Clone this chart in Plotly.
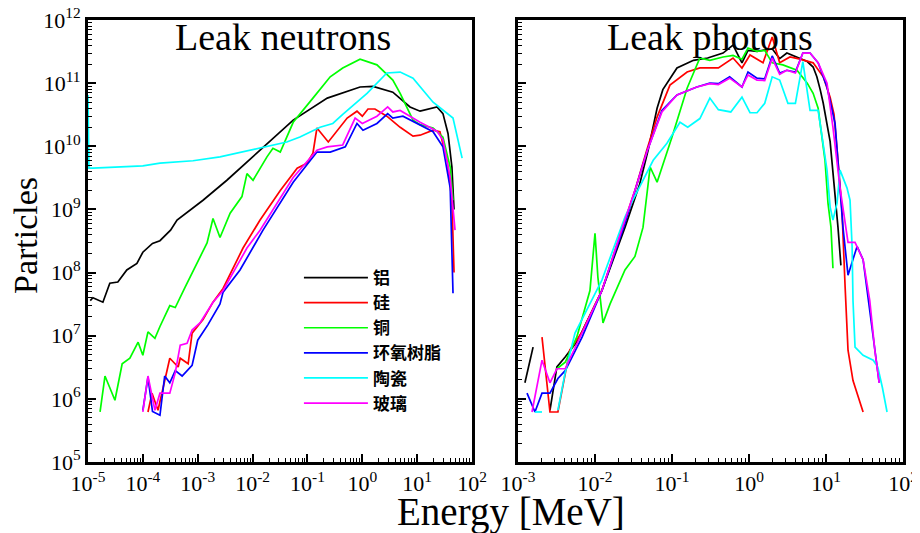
import plotly.graph_objects as go

# ---------------- data ----------------
materials = ["铝", "硅", "铜", "环氧树脂", "陶瓷", "玻璃"]
colors = ["#000000", "#ff0000", "#00ff00", "#0000ff", "#00ffff", "#ff00ff"]

# Leak neutrons
n_al_E = [1.1e-5, 1.23e-5, 1.87e-5, 2.5e-5, 3.5e-5, 5.1e-5, 7.8e-5, 1.0e-4, 1.5e-4, 2.05e-4, 3.2e-4, 4.2e-4,
          1.25e-3, 3.4e-3, 1.37e-2, 5.5e-2, 0.23, 0.91, 1.57, 3.6, 7.4, 11.3, 23, 29.5, 36.5, 43, 47]
n_al_N = [3.6e7, 4.0e7, 3.4e7, 6.8e7, 7.1e7, 1.1e8, 1.4e8, 2.1e8, 2.9e8, 3.2e8, 4.7e8, 6.8e8,
          1.4e9, 2.9e9, 8.7e9, 2.6e10, 5.8e10, 8.7e10, 8.9e10, 7.2e10, 4.2e10, 3.6e10, 4.2e10, 3.3e10, 1.6e10, 4.7e9, 1.0e9]

n_si_E = [1.24e-4, 1.47e-4, 1.89e-4, 2.23e-4, 3.1e-4, 4.4e-4, 4.8e-4, 6.7e-4, 7.9e-4, 1.25e-3, 1.9e-3, 2.9e-3,
          6.7e-3, 1.37e-2, 3.2e-2, 6.5e-2, 9.8e-2, 0.126, 0.149, 0.24, 0.35, 0.53, 0.8, 1.0, 1.27, 1.7, 2.8, 4.9,
          8.4, 11.3, 19.5, 26, 35, 43, 47]
n_si_N = [6.2e5, 1.23e6, 6.6e5, 1.23e6, 4.4e6, 3.2e6, 4.4e6, 3.6e6, 1.1e7, 1.8e7, 3.4e7, 5.6e7,
          2.45e8, 6.8e8, 2.0e9, 4.5e9, 5.4e9, 7.8e9, 1.95e10, 1.17e10, 1.8e10, 2.8e10, 3.6e10, 3.0e10, 3.9e10,
          3.9e10, 3.0e10, 2.0e10, 1.45e10, 1.5e10, 1.8e10, 1.7e10, 6.0e9, 1.4e9, 1.0e8]

n_cu_E = [1.66e-5, 2.04e-5, 3.1e-5, 4.2e-5, 5.8e-5, 8.2e-5, 1.0e-4, 1.24e-4, 1.66e-4, 2.05e-4, 3.1e-4, 3.9e-4,
          5.9e-4, 9.7e-4, 1.48e-3, 1.9e-3, 2.55e-3, 3.9e-3, 6.4e-3, 7.9e-3, 1.02e-2, 1.83e-2, 2.35e-2, 3.2e-2,
          5.5e-2, 0.126, 0.26, 0.44, 0.91, 1.85, 3.6, 4.9, 6.5, 8.4, 11.3, 19.5, 29.5, 40, 45]
n_cu_N = [6.2e5, 2.3e6, 9.5e5, 3.6e6, 4.4e6, 7.9e6, 4.9e6, 1.15e7, 9.1e6, 1.4e7, 3.0e7, 2.8e7,
          5.9e7, 1.4e8, 2.95e8, 7.2e8, 3.6e8, 8.7e8, 1.6e9, 3.7e9, 2.9e9, 6.8e9, 9.3e9, 8.1e9,
          2.4e10, 5.8e10, 1.26e11, 1.74e11, 2.4e11, 1.95e11, 1.12e11, 6.9e10, 4.2e10, 2.6e10, 2.2e10, 1.95e10,
          1.4e10, 4.7e9, 1.4e9]

n_epoxy_E = [1.0e-4, 1.24e-4, 1.5e-4, 2.05e-4, 2.5e-4, 3.1e-4, 3.9e-4, 5.2e-4, 7.9e-4, 1.0e-3, 1.54e-3, 2.55e-3,
             2.9e-3, 5.9e-3, 1.55e-2, 5.5e-2, 0.149, 0.26, 0.49, 0.8, 1.03, 1.85, 2.9, 3.6, 5.5, 19.5, 29.5, 40, 45]
n_epoxy_N = [6.6e5, 2.2e6, 6.3e5, 5.5e5, 2.3e6, 1.8e6, 2.8e6, 2.3e6, 3.4e6, 8.5e6, 1.5e7, 3.2e7,
             4.9e7, 1.1e8, 4.7e8, 2.7e9, 8.1e9, 8.1e9, 9.8e9, 2.3e10, 1.8e10, 2.3e10, 3.3e10, 2.8e10, 3.0e10,
             1.7e10, 9.8e9, 2.2e9, 4.7e7]

n_ceramic_E = [1.0e-5, 1.04e-5, 1.23e-5, 1.0e-4, 2.05e-4, 8.2e-4, 2.55e-3, 1.37e-2, 4.2e-2, 7.3e-2, 0.17, 0.29,
               0.44, 1.22, 2.8, 4.9, 8.4, 19.5, 45, 66]
n_ceramic_N = [6.5e10, 4.5e9, 4.5e9, 4.9e9, 5.4e9, 5.9e9, 6.8e9, 9.3e9, 1.17e10, 1.4e10, 2.0e10, 2.3e10,
               3.2e10, 6.9e10, 1.45e11, 1.5e11, 1.2e11, 5.0e10, 2.8e10, 6.5e9]

n_glass_E = [1.0e-4, 1.24e-4, 1.66e-4, 2.05e-4, 3.1e-4, 3.9e-4, 4.8e-4, 6.4e-4, 7.9e-4, 1.1e-3, 1.9e-3, 2.9e-3,
             7.9e-3, 1.37e-2, 5.5e-2, 0.149, 0.23, 0.44, 0.74, 1.0, 1.85, 2.9, 3.6, 4.9, 11.3, 23, 29.5, 40, 49]
n_glass_N = [6.2e5, 2.3e6, 6.6e5, 1.23e6, 1.23e6, 2.6e6, 7.1e6, 7.6e6, 1.23e7, 1.6e7, 3.4e7, 5.2e7,
             2.45e8, 4.7e8, 3.2e9, 8.7e9, 9.8e9, 1.05e10, 2.8e10, 2.3e10, 3.0e10, 4.2e10, 3.5e10, 3.7e10,
             2.4e10, 1.74e10, 1.26e10, 3.2e9, 4.7e8]

# Leak photons (None = gap in the curve)
p_al_E = [1.23e-3, 1.57e-3, None, 2.6e-3, 3.2e-3, 4.1e-3, 6.0e-3, 1.23e-2, 2.45e-2, 3.8e-2, 4.9e-2, 6.4e-2,
          7.6e-2, 0.116, 0.19, 0.29, 0.46, 0.62, 0.81, 0.97, 1.27, 2.0, 2.5, 3.1, 4.2, 5.7, 6.8, 7.6, 8.4,
          9.2, 11.3, 13.1, 14.3, 15.6]
p_al_N = [1.8e6, 6.6e6, None, 6.6e5, 3.2e6, 4.6e6, 8.5e6, 5.2e7, 5.2e8, 2.5e9, 8.7e9, 4.0e10,
          7.9e10, 1.74e11, 2.3e11, 2.5e11, 3.0e11, 4.0e11, 2.1e11, 3.3e11, 3.2e11, 3.5e11, 2.45e11, 3.0e11,
          2.6e11, 2.2e11, 1.8e11, 1.26e11, 7.9e10, 4.8e10, 1.2e10, 1.8e9, 5.2e8, 1.3e8]

p_si_E = [2.05e-3, 2.6e-3, 3.3e-3, 4.1e-3, 4.7e-3, 6.8e-3, 1.23e-2, 2.45e-2, 3.3e-2, 4.7e-2, 6.4e-2, 9.4e-2,
          0.157, 0.23, 0.4, 0.62, 0.81, 1.03, 1.52, 2.0, 2.5, 3.4, 4.6, 6.8, 9.2, 11.3, 12.7, 14.3, 16.1,
          17.7, 19.3, 22.4, 25.3, 30.3]
p_si_N = [9.5e6, 6.2e5, 6.2e5, 2.6e6, 5.9e6, 1.15e7, 5.2e7, 6.8e8, 2.0e9, 8.7e9, 2.9e10, 9.3e10,
          1.5e11, 1.74e11, 1.74e11, 2.5e11, 1.74e11, 2.8e11, 2.1e11, 5.4e11, 2.1e11, 2.6e11, 2.4e11, 2.1e11,
          1.26e11, 6.0e10, 3.2e10, 6.0e9, 1.0e9, 5.9e7, 5.9e6, 1.95e6, 1.23e6, 6.2e5]

p_cu_E = [3.2e-3, 4.1e-3, 5.8e-3, 8.6e-3, 1.0e-2, 1.09e-2, 1.27e-2, 1.57e-2, 2.45e-2, 3.3e-2, 4.2e-2, 5.2e-2,
          6.4e-2, 0.10, 0.157, 0.23, 0.31, 0.46, 0.62, 0.81, 0.97, 1.27, 1.6, 2.0, 2.75, 4.2, 5.7, 6.8, 7.9,
          9.7, 10.6, 11.6, 12.3]
p_cu_N = [3.0e6, 3.8e6, 9.5e6, 5.2e7, 4.2e8, 8.5e7, 1.6e7, 3.2e7, 1.1e8, 1.8e8, 5.2e8, 4.7e9,
          2.7e9, 1.4e10, 8.3e10, 2.5e11, 2.3e11, 2.6e11, 2.75e11, 2.4e11, 3.6e11, 3.2e11, 3.3e11, 2.1e11,
          1.95e11, 1.6e11, 1.0e11, 6.9e10, 4.0e10, 6.0e9, 1.26e9, 5.2e8, 1.17e8]

p_epoxy_E = [1.31e-3, 1.66e-3, 2.05e-3, 2.6e-3, 3.3e-3, 4.1e-3, 6.8e-3, 1.23e-2, 2.45e-2, 3.5e-2, 4.8e-2, 7.4e-2,
             0.116, 0.21, 0.31, 0.4, 0.56, 0.81, 0.97, 1.27, 1.6, 2.0, 2.5, 3.1, 4.0, 5.0, 6.2, 7.9, 10.3,
             13.1, 15.2, 16.6, 19.3, 25.3, 30.3, 37, 43, 49]
p_epoxy_N = [1.23e6, 6.2e5, 1.23e6, 1.23e6, 2.1e6, 2.8e6, 9.5e6, 5.2e7, 6.0e8, 2.5e9, 8.7e9, 3.7e10,
             6.5e10, 8.7e10, 1.0e11, 9.8e10, 1.26e11, 8.7e10, 1.5e11, 1.2e11, 1.17e11, 2.7e11, 1.45e11, 1.6e11,
             1.5e11, 3.0e11, 3.0e11, 2.1e11, 8.7e10, 2.3e10, 1.8e9, 5.2e8, 9.1e7, 2.6e8, 1.6e8, 2.5e7, 5.9e6, 1.8e6]

p_ceramic_E = [1.66e-3, 2.05e-3, None, 3.3e-3, 4.1e-3, 5.5e-3, 1.23e-2, 2.45e-2, 3.1e-2, 5.7e-2, 8.6e-2, 0.127,
               0.16, 0.23, 0.31, 0.4, 0.58, 0.81, 1.03, 1.27, 1.6, 2.0, 2.5, 3.2, 4.0, 5.0, 6.2, 7.9, 9.2, 10.3,
               11.3, 12.3, 13.9, 15.2, 18.7, 20.5, 21.8, 22.4, 23.8, 30.3, 41, 47, 54, 62]
p_ceramic_N = [6.2e5, 6.2e5, None, 6.6e5, 2.6e6, 1.1e7, 7.6e7, 7.6e8, 1.4e9, 6.0e9, 1.12e10, 2.4e10,
               2.0e10, 2.75e10, 5.8e10, 3.8e10, 3.5e10, 6.0e10, 3.4e10, 3.4e10, 4.8e10, 1.26e11, 1.12e11, 4.8e10,
               4.8e10, 2.2e11, 3.7e10, 3.7e10, 1.12e10, 4.2e9, 1.1e9, 6.8e8, 1.26e9, 4.2e9, 2.2e9, 1.4e9, 2.6e8,
               3.6e7, 6.6e6, 4.9e6, 4.1e6, 3.2e6, 1.5e6, 6.2e5]

p_glass_E = [1.52e-3, 2.05e-3, 2.6e-3, 3.2e-3, 4.1e-3, 6.8e-3, 1.23e-2, 2.45e-2, 3.5e-2, 4.8e-2, 7.4e-2, 0.116,
             0.21, 0.31, 0.4, 0.56, 0.81, 0.97, 1.27, 1.6, 2.0, 2.5, 3.1, 4.0, 5.0, 6.2, 7.9, 10.3, 12.3, 15.2,
             17.7, 19.3, 23.8, 30.3, 37, 43, 49]
p_glass_N = [6.2e5, 4.1e6, 1.8e6, 3.0e6, 3.0e6, 1.1e7, 5.2e7, 6.8e8, 2.5e9, 8.7e9, 3.5e10, 6.5e10,
             8.7e10, 9.8e10, 9.5e10, 1.2e11, 8.7e10, 1.35e11, 1.12e11, 1.1e11, 2.5e11, 1.38e11, 1.6e11, 1.45e11,
             3.0e11, 3.0e11, 2.1e11, 1.0e11, 2.0e10, 2.2e9, 6.8e8, 3.0e8, 3.0e8, 1.6e8, 3.6e7, 5.9e6, 1.8e6]

neutron_series = [(n_al_E, n_al_N), (n_si_E, n_si_N), (n_cu_E, n_cu_N),
                  (n_epoxy_E, n_epoxy_N), (n_ceramic_E, n_ceramic_N), (n_glass_E, n_glass_N)]
photon_series = [(p_al_E, p_al_N), (p_si_E, p_si_N), (p_cu_E, p_cu_N),
                 (p_epoxy_E, p_epoxy_N), (p_ceramic_E, p_ceramic_N), (p_glass_E, p_glass_N)]

left_x_exps = [-5, -4, -3, -2, -1, 0, 1, 2]
right_x_exps = [-3, -2, -1, 0, 1, 2]
y_exps = [5, 6, 7, 8, 9, 10, 11, 12]
panel_titles = ["Leak neutrons", "Leak photons"]
x_title = "Energy [MeV]"
y_title = "Particles"

# ---------------- figure ----------------
SERIF = "Liberation Serif, Times New Roman, serif"
fig = go.Figure()

for name, col, (e, n) in zip(materials, colors, neutron_series):
    fig.add_trace(go.Scatter(x=e, y=n, mode="lines", name=name, legendgroup=name,
                             line=dict(color=col, width=1.7), xaxis="x", yaxis="y"))
for name, col, (e, n) in zip(materials, colors, photon_series):
    fig.add_trace(go.Scatter(x=e, y=n, mode="lines", name=name, legendgroup=name, showlegend=False,
                             line=dict(color=col, width=1.7), xaxis="x2", yaxis="y2"))


def sup_label(p):
    return "10<sup>%d</sup>" % p


def minor_vals(exps):
    return [k * 10.0 ** p for p in exps[:-1] for k in range(2, 10)]


def log_axis(exps, show_labels=True):
    return dict(
        type="log", range=[exps[0], exps[-1]], automargin=False,
        tickmode="array", tickvals=[10.0 ** p for p in exps],
        ticktext=[sup_label(p) for p in exps], showticklabels=show_labels,
        ticklabeloverflow="allow",
        ticks="inside", ticklen=8, tickwidth=2, tickcolor="black",
        minor=dict(ticks="inside", ticklen=4, tickwidth=1, tickcolor="black",
                   tickmode="array", tickvals=minor_vals(exps), showgrid=False),
        showgrid=False, zeroline=False,
        showline=True, linewidth=3, linecolor="black", mirror=True,
        tickfont=dict(family=SERIF, size=22, color="black"),
    )


# the page body adds an 8px offset, so the figure is 8px smaller than the window
W, H = 912, 525
ydom = [0.1352, 0.9771]
fig.update_layout(
    width=W, height=H,
    margin=dict(l=0, r=0, t=0, b=0, autoexpand=False),
    paper_bgcolor="white", plot_bgcolor="white",
    xaxis=dict(log_axis(left_x_exps), domain=[0.0877, 0.5088], anchor="y"),
    yaxis=dict(log_axis(y_exps), domain=ydom, anchor="x"),
    xaxis2=dict(log_axis(right_x_exps), domain=[0.5592, 0.9814], anchor="y2"),
    yaxis2=dict(log_axis(y_exps, show_labels=False), domain=ydom, anchor="x2"),
    showlegend=True,
    legend=dict(x=0.319, y=0.52, xanchor="left", yanchor="top", tracegroupgap=0,
                bgcolor="rgba(0,0,0,0)", itemwidth=64,
                font=dict(family="Noto Sans CJK SC", size=17, color="black", weight="bold")),
    annotations=[
        dict(text=panel_titles[0], x=0.3015, y=0.9448, xref="paper", yref="paper",
             showarrow=False, xanchor="center", yanchor="middle",
             font=dict(family=SERIF, size=38, color="black")),
        dict(text=panel_titles[1], x=0.7697, y=0.9448, xref="paper", yref="paper",
             showarrow=False, xanchor="center", yanchor="middle",
             font=dict(family=SERIF, size=38, color="black")),
        dict(text=y_title, x=0.0186, y=0.5676, xref="paper", yref="paper", textangle=-90,
             showarrow=False, xanchor="center", yanchor="middle",
             font=dict(family=SERIF, size=34, color="black")),
        dict(text=x_title, x=0.5515, y=0.04, xref="paper", yref="paper",
             showarrow=False, xanchor="center", yanchor="middle",
             font=dict(family=SERIF, size=39, color="black")),
    ],
)

fig.write_html("out.html")
